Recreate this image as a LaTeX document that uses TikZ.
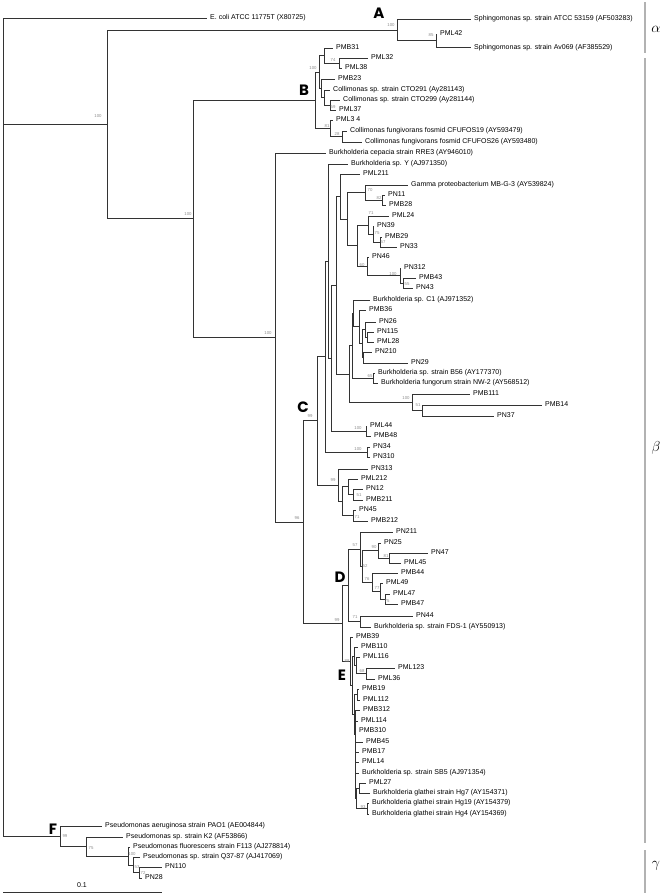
\documentclass[tikz,border=0pt]{standalone}
\usepackage{fontspec}
\setmainfont{Liberation Sans}
\newfontfamily\cladefont{Poppins}
\begin{document}
\begin{tikzpicture}[x=1pt,y=-1pt,
  br/.style={draw=black!80,line width=0.8pt},
  leaf/.style={anchor=west,inner xsep=3pt,inner ysep=0pt,font=\fontsize{7}{8}\selectfont,text height=5pt,text depth=1.4pt},
  bs/.style={font=\fontsize{4.3}{5}\selectfont,text=black!45,inner sep=0pt},
  clade/.style={font=\cladefont\bfseries\fontsize{15}{15}\selectfont,inner sep=0pt},
  grk/.style={font=\fontsize{15}{15}\selectfont,inner sep=0pt},
  gbar/.style={draw=black!30,line width=1.2pt}]
\useasboundingbox (0,0) rectangle (662,895);

% ---------- root and alpha ----------
\coordinate (root) at (3,427);
\node[leaf] (ecoli) at (207,18) {E. coli ATCC 11775T (X80725)};
\coordinate (n107) at (107,124.4);
\coordinate (nA) at (397,29.9);
\node[leaf] (sATCC) at (471,19) {Sphingomonas sp. strain ATCC 53159 (AF503283)};
\coordinate (n85) at (436,40.75);
\node[leaf] (PML42) at (437,34) {PML42};
\node[leaf] (sAv) at (471,47.5) {Sphingomonas sp. strain Av069 (AF385529)};

% ---------- B clade ----------
\coordinate (n193) at (193,218.8);
\coordinate (nB) at (315,100.1);
\coordinate (nB100) at (319,71.9);
\coordinate (n324) at (324,55.5);
\node[leaf] (PMB31) at (333,48) {PMB31};
\coordinate (n74) at (339,63);
\node[leaf] (PML32) at (368,58) {PML32};
\node[leaf] (PML38) at (342,68) {PML38};
\coordinate (nb2) at (321,88.25);
\node[leaf] (PMB23) at (335,79) {PMB23};
\coordinate (nb3) at (324,97.5);
\node[leaf] (CTO291) at (330,90) {Collimonas sp. strain CTO291 (Ay281143)};
\coordinate (n59) at (330,105);
\node[leaf] (CTO299) at (340,100) {Collimonas sp. strain CTO299 (Ay281144)};
\node[leaf] (PML37) at (336,110) {PML37};
\coordinate (n81) at (330,128.25);
\node[leaf] (PML34) at (333,120) {PML3 4};
\coordinate (n28) at (342,136.5);
\node[leaf] (CF19) at (347,131) {Collimonas fungivorans fosmid CFUFOS19 (AY593479)};
\node[leaf] (CF26) at (362,142) {Collimonas fungivorans fosmid CFUFOS26 (AY593480)};

% ---------- Burkholderia ----------
\coordinate (n275) at (275,337.5);
\node[leaf] (RRE3) at (326,153) {Burkholderia cepacia strain RRE3 (AY946010)};
\coordinate (n303) at (303,522);
\coordinate (nC) at (317,420.8);
\coordinate (n325) at (325,356.5);
\coordinate (n328) at (328,261);
\node[leaf] (BurkY) at (348,164) {Burkholderia sp. Y (AJ971350)};
\coordinate (n331) at (331,358.1);
\coordinate (n336) at (336,285.25);
\coordinate (n340) at (340,196.5);
\node[leaf] (PML211) at (360,174) {PML211};
\coordinate (nP) at (347,219);
\coordinate (n70) at (365,192.5);
\node[leaf] (Gamma) at (408,185) {Gamma proteobacterium MB-G-3 (AY539824)};
\coordinate (n82) at (382,200);
\node[leaf] (PN11) at (385,195) {PN11};
\node[leaf] (PMB28) at (386,205) {PMB28};
\coordinate (nQ) at (357,245.6);
\coordinate (n71) at (368,225);
\node[leaf] (PML24) at (389,216) {PML24};
\coordinate (n75) at (373,234);
\node[leaf] (PN39) at (374,226) {PN39};
\coordinate (n57) at (380,242);
\node[leaf] (PMB29) at (382,237) {PMB29};
\node[leaf] (PN33) at (397,247) {PN33};
\coordinate (n60) at (367,266.25);
\node[leaf] (PN46) at (369,257) {PN46};
\coordinate (n100b) at (400,275.5);
\node[leaf] (PN312) at (401,268) {PN312};
\coordinate (n55) at (403,283);
\node[leaf] (PMB43) at (416,278) {PMB43};
\node[leaf] (PN43) at (413,288) {PN43};
\coordinate (n349) at (349,374);
\coordinate (n352) at (352,345.7);
\coordinate (n353) at (353,313.4);
\node[leaf] (C1) at (370,300) {Burkholderia sp. C1 (AJ971352)};
\coordinate (n359) at (359,326.75);
\node[leaf] (PMB36) at (366,310) {PMB36};
\coordinate (n362) at (362,343.5);
\coordinate (n365) at (365,329.5);
\node[leaf] (PN26) at (376,322) {PN26};
\coordinate (nPNc) at (367,337);
\node[leaf] (PN115) at (374,332) {PN115};
\node[leaf] (PML28) at (374,342) {PML28};
\coordinate (n363) at (363,357.5);
\node[leaf] (PN210) at (372,352) {PN210};
\node[leaf] (PN29) at (408,363) {PN29};
\coordinate (n65) at (373,378);
\node[leaf] (B56) at (375,373) {Burkholderia sp. strain B56 (AY177370)};
\node[leaf] (NW2) at (378,383) {Burkholderia fungorum strain NW-2 (AY568512)};
\coordinate (n100c) at (412,402.25);
\node[leaf] (PMB111) at (470,394) {PMB111};
\coordinate (n51) at (422,410.5);
\node[leaf] (PMB14) at (542,405) {PMB14};
\node[leaf] (PN37) at (494,416) {PN37};
\coordinate (nPML44) at (366,431);
\node[leaf] (PML44) at (367,426) {PML44};
\node[leaf] (PMB48) at (371,436) {PMB48};
\coordinate (nPN34) at (367,452);
\node[leaf] (PN34) at (370,447) {PN34};
\node[leaf] (PN310) at (370,457) {PN310};
\coordinate (n338) at (338,485);
\node[leaf] (PN313) at (368,469) {PN313};
\coordinate (n342) at (342,501.1);
\coordinate (n348) at (348,486.75);
\node[leaf] (PML212) at (358,479) {PML212};
\coordinate (n51b) at (353,494.5);
\node[leaf] (PN12) at (363,489) {PN12};
\node[leaf] (PMB211) at (363,500) {PMB211};
\coordinate (n71b) at (353,515.5);
\node[leaf] (PN45) at (356,510) {PN45};
\node[leaf] (PMB212) at (368,521) {PMB212};

% ---------- D ----------
\coordinate (nDE) at (342,623.25);
\coordinate (nD) at (348,585.3);
\coordinate (n57d) at (360,549.1);
\node[leaf] (PN211) at (393,532) {PN211};
\coordinate (n52) at (362,566.25);
\coordinate (n90) at (378,550.5);
\node[leaf] (PN25) at (381,543) {PN25};
\coordinate (n81d) at (389,558);
\node[leaf] (PN47) at (428,553) {PN47};
\node[leaf] (PML45) at (401,563) {PML45};
\coordinate (n76) at (372,582);
\node[leaf] (PMB44) at (398,573) {PMB44};
\coordinate (n77) at (380,591);
\node[leaf] (PML49) at (383,583) {PML49};
\coordinate (n75d) at (385,599);
\node[leaf] (PML47) at (390,594) {PML47};
\node[leaf] (PMB47) at (398,604) {PMB47};
\coordinate (n71d) at (360,621.5);
\node[leaf] (PN44) at (413,616) {PN44};
\node[leaf] (FDS1) at (371,627) {Burkholderia sp. strain FDS-1 (AY550913)};

% ---------- E ----------
\coordinate (nE) at (350,661.2);
\node[leaf] (PMB39) at (353,637) {PMB39};
\coordinate (nE1) at (352,685.4);
\coordinate (nE2) at (354,656.1);
\node[leaf] (PMB110) at (358,647) {PMB110};
\coordinate (nEa) at (356,665.25);
\node[leaf] (PML116) at (360,657) {PML116};
\coordinate (n68) at (366,673.5);
\node[leaf] (PML123) at (395,668) {PML123};
\node[leaf] (PML36) at (375,679) {PML36};
\coordinate (nE3) at (354,714.7);
\coordinate (nE4) at (357,694.5);
\node[leaf] (PMB19) at (359,689) {PMB19};
\node[leaf] (PML112) at (360,700) {PML112};
\coordinate (nE5) at (355,734.8);
\node[leaf] (PMB312) at (360,710) {PMB312};
\coordinate (nE6) at (355,759.6);
\node[leaf] (PML114) at (358,721) {PML114};
\node[leaf] (PMB310) at (356,731) {PMB310};
\node[leaf] (PMB45) at (363,742) {PMB45};
\node[leaf] (PMB17) at (359,752) {PMB17};
\node[leaf] (PML14) at (359,762) {PML14};
\node[leaf] (SB5) at (359,773) {Burkholderia sp. strain SB5 (AJ971354)};
\coordinate (nG) at (356,798.25);
\coordinate (nG1) at (359,788);
\node[leaf] (PML27) at (366,783) {PML27};
\node[leaf] (Hg7) at (370,793) {Burkholderia glathei strain Hg7 (AY154371)};
\coordinate (n93) at (367,808.5);
\node[leaf] (Hg19) at (369,803) {Burkholderia glathei strain Hg19 (AY154379)};
\node[leaf] (Hg4) at (369,814) {Burkholderia glathei strain Hg4 (AY154369)};

% ---------- F (gamma) ----------
\coordinate (nF) at (60,836.5);
\node[leaf] (Paer) at (102,826) {Pseudomonas aeruginosa strain PAO1 (AE004844)};
\coordinate (n75f) at (86,846.5);
\node[leaf] (K2) at (123,837) {Pseudomonas sp. strain K2 (AF53866)};
\coordinate (n100f) at (128,856);
\node[leaf] (F113) at (130,847) {Pseudomonas fluorescens strain F113 (AJ278814)};
\coordinate (n53) at (133,865);
\node[leaf] (Q37) at (140,857) {Pseudomonas sp. strain Q37-87 (AJ417069)};
\coordinate (n72) at (139,872.5);
\node[leaf] (PN110) at (162,867) {PN110};
\node[leaf] (PN28) at (142,878) {PN28};

% ---------- branches ----------
\draw[br] (root) |- (ecoli.west) (root) |- (n107) (root) |- (nF);
\draw[br] (n107) |- (nA) (n107) |- (n193);
\draw[br] (nA) |- (sATCC.west) (nA) |- (n85);
\draw[br] (n85) |- (PML42.west) (n85) |- (sAv.west);
\draw[br] (n193) |- (nB) (n193) |- (n275);
\draw[br] (nB) |- (nB100) (nB) |- (n81);
\draw[br] (nB100) |- (n324) (nB100) |- (nb2);
\draw[br] (n324) |- (PMB31.west) (n324) |- (n74);
\draw[br] (n74) |- (PML32.west) (n74) |- (PML38.west);
\draw[br] (nb2) |- (PMB23.west) (nb2) |- (nb3);
\draw[br] (nb3) |- (CTO291.west) (nb3) |- (n59);
\draw[br] (n59) |- (CTO299.west) (n59) |- (PML37.west);
\draw[br] (n81) |- (PML34.west) (n81) |- (n28);
\draw[br] (n28) |- (CF19.west) (n28) |- (CF26.west);
\draw[br] (n275) |- (RRE3.west) (n275) |- (n303);
\draw[br] (n303) |- (nC) (n303) |- (nDE);
\draw[br] (nC) |- (n325) (nC) |- (n338);
\draw[br] (n325) |- (n328) (n325) |- (nPN34);
\draw[br] (n328) |- (BurkY.west) (n328) |- (n331);
\draw[br] (n331) |- (n336) (n331) |- (nPML44);
\draw[br] (n336) |- (n340) (n336) |- (n349);
\draw[br] (n340) |- (PML211.west) (n340) |- (nP);
\draw[br] (nP) |- (n70) (nP) |- (nQ);
\draw[br] (n70) |- (Gamma.west) (n70) |- (n82);
\draw[br] (n82) |- (PN11.west) (n82) |- (PMB28.west);
\draw[br] (nQ) |- (n71) (nQ) |- (n60);
\draw[br] (n71) |- (PML24.west) (n71) |- (n75);
\draw[br] (n75) |- (PN39.west) (n75) |- (n57);
\draw[br] (n57) |- (PMB29.west) (n57) |- (PN33.west);
\draw[br] (n60) |- (PN46.west) (n60) |- (n100b);
\draw[br] (n100b) |- (PN312.west) (n100b) |- (n55);
\draw[br] (n55) |- (PMB43.west) (n55) |- (PN43.west);
\draw[br] (n349) |- (n352) (n349) |- (n100c);
\draw[br] (n352) |- (n353) (n352) |- (n65);
\draw[br] (n353) |- (C1.west) (n353) |- (n359);
\draw[br] (n359) |- (PMB36.west) (n359) |- (n362);
\draw[br] (n362) |- (n365) (n362) |- (n363);
\draw[br] (n365) |- (PN26.west) (n365) |- (nPNc);
\draw[br] (nPNc) |- (PN115.west) (nPNc) |- (PML28.west);
\draw[br] (n363) |- (PN210.west) (n363) |- (PN29.west);
\draw[br] (n65) |- (B56.west) (n65) |- (NW2.west);
\draw[br] (n100c) |- (PMB111.west) (n100c) |- (n51);
\draw[br] (n51) |- (PMB14.west) (n51) |- (PN37.west);
\draw[br] (nPML44) |- (PML44.west) (nPML44) |- (PMB48.west);
\draw[br] (nPN34) |- (PN34.west) (nPN34) |- (PN310.west);
\draw[br] (n338) |- (PN313.west) (n338) |- (n342);
\draw[br] (n342) |- (n348) (n342) |- (n71b);
\draw[br] (n348) |- (PML212.west) (n348) |- (n51b);
\draw[br] (n51b) |- (PN12.west) (n51b) |- (PMB211.west);
\draw[br] (n71b) |- (PN45.west) (n71b) |- (PMB212.west);
\draw[br] (nDE) |- (nD) (nDE) |- (nE);
\draw[br] (nD) |- (n57d) (nD) |- (n71d);
\draw[br] (n57d) |- (PN211.west) (n57d) |- (n52);
\draw[br] (n52) |- (n90) (n52) |- (n76);
\draw[br] (n90) |- (PN25.west) (n90) |- (n81d);
\draw[br] (n81d) |- (PN47.west) (n81d) |- (PML45.west);
\draw[br] (n76) |- (PMB44.west) (n76) |- (n77);
\draw[br] (n77) |- (PML49.west) (n77) |- (n75d);
\draw[br] (n75d) |- (PML47.west) (n75d) |- (PMB47.west);
\draw[br] (n71d) |- (PN44.west) (n71d) |- (FDS1.west);
\draw[br] (nE) |- (PMB39.west) (nE) |- (nE1);
\draw[br] (nE1) |- (nE2) (nE1) |- (nE3);
\draw[br] (nE2) |- (PMB110.west) (nE2) |- (nEa);
\draw[br] (nEa) |- (PML116.west) (nEa) |- (n68);
\draw[br] (n68) |- (PML123.west) (n68) |- (PML36.west);
\draw[br] (nE3) |- (nE4) (nE3) |- (nE5);
\draw[br] (nE4) |- (PMB19.west) (nE4) |- (PML112.west);
\draw[br] (nE5) |- (PMB312.west) (nE5) |- (nE6);
\draw[br] (nE6) |- (PML114.west) (nE6) |- (PMB310.west) (nE6) |- (PMB45.west)
  (nE6) |- (PMB17.west) (nE6) |- (PML14.west) (nE6) |- (SB5.west) (nE6) |- (nG);
\draw[br] (nG) |- (nG1) (nG) |- (n93);
\draw[br] (nG1) |- (PML27.west) (nG1) |- (Hg7.west);
\draw[br] (n93) |- (Hg19.west) (n93) |- (Hg4.west);
\draw[br] (nF) |- (Paer.west) (nF) |- (n75f);
\draw[br] (n75f) |- (K2.west) (n75f) |- (n100f);
\draw[br] (n100f) |- (F113.west) (n100f) |- (n53);
\draw[br] (n53) |- (Q37.west) (n53) |- (n72);
\draw[br] (n72) |- (PN110.west) (n72) |- (PN28.west);

% ---------- bootstrap values ----------
\node[bs] (b1) at (98,116) {100};
\node[bs] (b2) at (188,214) {100};
\node[bs] (b3) at (268,333) {100};
\node[bs] (b4) at (391,25) {100};
\node[bs] (b5) at (431,35) {85};
\node[bs] (b6) at (313,68) {100};
\node[bs] (b7) at (333,60) {74};
\node[bs] (b8) at (333,107) {59};
\node[bs] (b9) at (327,126) {81};
\node[bs] (b10) at (337,134) {28};
\node[bs] (b11) at (370,190) {70};
\node[bs] (b12) at (379,198) {82};
\node[bs] (b13) at (371,213) {71};
\node[bs] (b14) at (377,233) {75};
\node[bs] (b15) at (383,242) {57};
\node[bs] (b16) at (362,265) {60};
\node[bs] (b17) at (393,274) {100};
\node[bs] (b18) at (407,284) {55};
\node[bs] (b19) at (370,376) {65};
\node[bs] (b20) at (406,398) {100};
\node[bs] (b21) at (418,405) {51};
\node[bs] (b22) at (358,428) {100};
\node[bs] (b23) at (358,449) {100};
\node[bs] (b24) at (310,416) {99};
\node[bs] (b25) at (333,480) {99};
\node[bs] (b26) at (359,495) {51};
\node[bs] (b27) at (357,517) {71};
\node[bs] (b28) at (297,518) {96};
\node[bs] (b29) at (355,545) {57};
\node[bs] (b30) at (374,547) {90};
\node[bs] (b31) at (386,556) {81};
\node[bs] (b32) at (365,566) {52};
\node[bs] (b33) at (367,579) {76};
\node[bs] (b34) at (377,588) {77};
\node[bs] (b35) at (387,601) {75};
\node[bs] (b36) at (355,617) {71};
\node[bs] (b37) at (337,620) {99};
\node[bs] (b38) at (347,661) {88};
\node[bs] (b39) at (362,671) {68};
\node[bs] (b40) at (363,807) {93};
\node[bs] (b41) at (65,836) {99};
\node[bs] (b42) at (91,848) {75};
\node[bs] (b43) at (132,854) {100};
\node[bs] (b44) at (137,867) {53};
\node[bs] (b45) at (143,873) {72};

% ---------- clade letters ----------
\node[clade] (LA) at (379,13) {A};
\node[clade] (LB) at (304,90) {B};
\node[clade] (LC) at (303,407) {C};
\node[clade] (LD) at (340,577) {D};
\node[clade] (LE) at (342,675) {E};
\node[clade] (LF) at (53,829) {F};

% ---------- groups ----------
\coordinate (ga1) at (645,2); \coordinate (ga2) at (645,53);
\coordinate (gb1) at (645,58); \coordinate (gb2) at (645,843);
\coordinate (gc1) at (645,850); \coordinate (gc2) at (645,893);
\draw[gbar] (ga1) -- (ga2);
\draw[gbar] (gb1) -- (gb2);
\draw[gbar] (gc1) -- (gc2);
\node[grk] (galpha) at (656,29) {$\alpha$};
\node[grk] (gbeta) at (656,448) {$\beta$};
\node[grk] (ggamma) at (656,866) {$\gamma$};

% ---------- scale bar ----------
\coordinate (sb1) at (3,892);
\coordinate (sb2) at (162,892);
\draw[br] (sb1) -- (sb2);
\node[font=\fontsize{7}{8}\selectfont,inner sep=0pt] (sbl) at (82,885) {0.1};
\end{tikzpicture}
\end{document}
